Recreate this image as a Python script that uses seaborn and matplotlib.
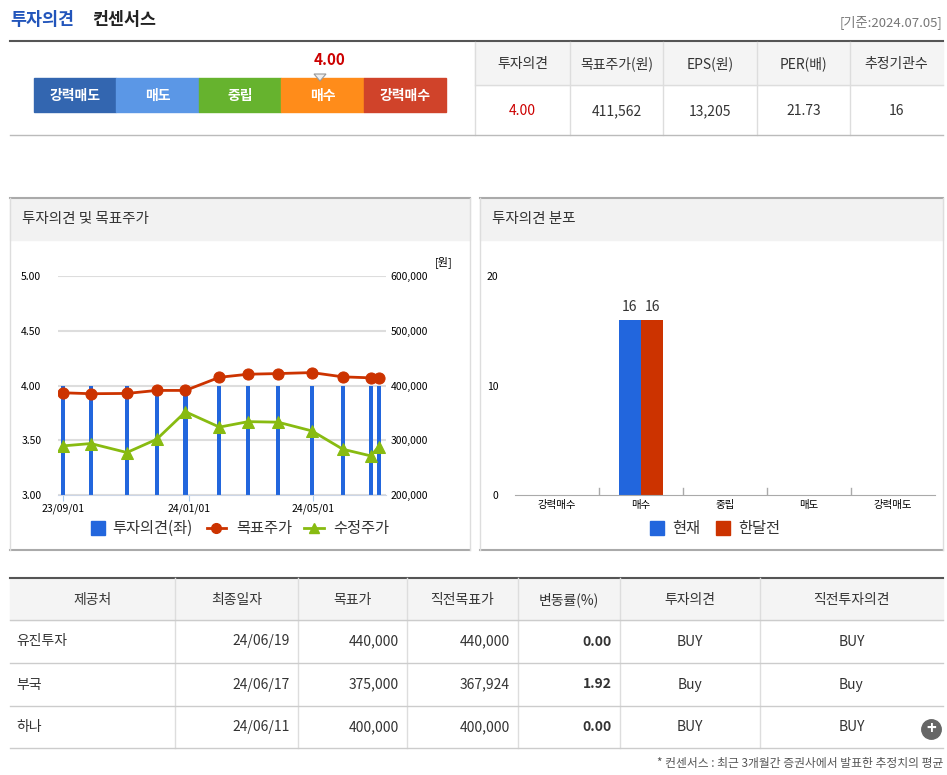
import matplotlib
matplotlib.use("Agg")
import matplotlib.pyplot as plt
import seaborn as sns
import pandas as pd
import numpy as np
from matplotlib.patches import Rectangle, Polygon
from matplotlib import font_manager

_names = {f.name for f in font_manager.fontManager.ttflist}
_fams = [n for n in ["Noto Sans CJK KR", "Noto Sans CJK JP", "Noto Sans CJK SC", "Noto Sans CJK TC"] if n in _names]
plt.rcParams["font.family"] = _fams + ["DejaVu Sans"]

# ---- data ----
days = [0, 27, 62, 91, 119, 152, 180, 209, 242, 272, 299, 307]
opinion = [4.0, 4.0, 4.0, 4.0, 4.0, 4.0, 4.0, 4.0, 4.0, 4.0, 4.0, 4.0]
target = [386700, 385000, 385500, 391000, 391000, 415000, 420600, 421800, 423600, 415800, 414000, 414000]
price = [289700, 294000, 277600, 301800, 352000, 324000, 334000, 333000, 317000, 283600, 271500, 288000]
xtick_pos = [0, 122, 243]
xtick_labels = ["23/09/01", "24/01/01", "24/05/01"]
dist_cats = ["강력매수", "매수", "중립", "매도", "강력매도"]
dist_now = [0, 16, 0, 0, 0]
dist_prev = [0, 16, 0, 0, 0]
gauge_labels = ["강력매도", "매도", "중립", "매수", "강력매수"]
gauge_colors = ["#3366b0", "#5b97e6", "#66b32e", "#ff8c1a", "#d0432a"]
top_headers = ["투자의견", "목표주가(원)", "EPS(원)", "PER(배)", "추정기관수"]
top_values = ["4.00", "411,562", "13,205", "21.73", "16"]
tbl_headers = ["제공처", "최종일자", "목표가", "직전목표가", "변동률(%)", "투자의견", "직전투자의견"]
tbl_rows = [
    ["유진투자", "24/06/19", "440,000", "440,000", "0.00", "BUY", "BUY"],
    ["부국", "24/06/17", "375,000", "367,924", "1.92", "Buy", "Buy"],
    ["하나", "24/06/11", "400,000", "400,000", "0.00", "BUY", "BUY"],
]

W, H = 947, 775
fig = plt.figure(figsize=(W / 100, H / 100), dpi=100)
bg = fig.add_axes([0, 0, 1, 1])
bg.set_xlim(0, W); bg.set_ylim(H, 0); bg.axis("off")

def hl(y, x0, x1, c="#cccccc", lw=1):
    bg.plot([x0, x1], [y, y], color=c, lw=lw)
def vl(x, y0, y1, c="#dddddd", lw=1):
    bg.plot([x, x], [y0, y1], color=c, lw=lw)

# title
bg.text(10, 20, "투자의견", color="#2255bb", fontsize=12.5, fontweight="bold", va="center")
bg.text(92, 20, "컨센서스", color="#222222", fontsize=12.5, fontweight="bold", va="center")
bg.text(942, 22, "[기준:2024.07.05]", color="#777777", fontsize=9.5, va="center", ha="right")
hl(41, 10, 943, "#555555", 1.5)

# gauge
gx0, gw = 34, 82.4
for i, (lab, c) in enumerate(zip(gauge_labels, gauge_colors)):
    bg.add_patch(Rectangle((gx0 + i * gw, 78), gw, 34, color=c))
    bg.text(gx0 + i * gw + gw / 2, 96, lab, color="white", fontsize=10, fontweight="bold", ha="center", va="center")
bg.text(330, 60, "4.00", color="#cc0000", fontsize=11, fontweight="bold", ha="center", va="center")
bg.add_patch(Polygon([[314, 74], [326, 74], [320, 81]], color="#eeeeee", ec="#999999", lw=0.8))

# top table
bg.add_patch(Rectangle((475, 42), 468, 43, color="#f4f4f4"))
cols = [475, 570, 663, 757, 850, 943]
for i in range(5):
    cx = (cols[i] + cols[i + 1]) / 2
    bg.text(cx, 64, top_headers[i], fontsize=10, ha="center", va="center", color="#333333")
    bg.text(cx, 111, top_values[i], fontsize=10, ha="center", va="center",
            color="#cc0000" if i == 0 else "#333333")
for x in cols[1:-1]:
    vl(x, 42, 135)
vl(475, 42, 135)
hl(85, 475, 943, "#dddddd")
hl(135, 10, 943, "#bbbbbb")

# panels
for x0, x1, t in [(10, 470, "투자의견 및 목표주가"), (480, 943, "투자의견 분포")]:
    bg.add_patch(Rectangle((x0, 198), x1 - x0, 42, color="#f2f2f2"))
    hl(198, x0, x1, "#aaaaaa", 1.5)
    hl(550, x0, x1, "#aaaaaa", 1.5)
    vl(x0, 198, 550, "#dddddd"); vl(x1, 198, 550, "#dddddd")
    bg.text(x0 + 12, 219, t, fontsize=10.5, va="center", color="#333333")

# left chart
ax = fig.add_axes([58 / W, 1 - 495 / H, 328 / W, 219 / H])
ax.bar(days, [o - 3 for o in opinion], bottom=3, width=4, color="#2266dd", zorder=2)
ax.set_ylim(3, 5); ax.set_xlim(-5, 314)
ax.set_yticks([3, 3.5, 4, 4.5, 5])
ax.set_yticklabels(["3.00", "3.50", "4.00", "4.50", "5.00"], fontsize=7.5)
ax.grid(axis="y", color="#dddddd", lw=1.5, zorder=0)
ax.set_xticks(xtick_pos); ax.set_xticklabels(xtick_labels, fontsize=7.5)
ax.tick_params(axis="y", length=0, pad=12)
ax.tick_params(axis="x", length=4, color="#aaccee", pad=2)
for s in ax.spines.values(): s.set_visible(False)
ax.spines["bottom"].set_visible(True); ax.spines["bottom"].set_color("#ccd6e6")
ax2 = ax.twinx()
df = pd.DataFrame({"d": days, "t": target, "p": price})
sns.lineplot(data=df, x="d", y="t", ax=ax2, color="#cc3300", lw=2, marker="o", ms=8, mec="#cc3300")
sns.lineplot(data=df, x="d", y="p", ax=ax2, color="#88bb11", lw=2, marker="^", ms=8, mec="#88bb11")
ax2.set_ylim(200000, 600000)
ax2.set_yticks([200000, 300000, 400000, 500000, 600000])
ax2.set_yticklabels(["200,000", "300,000", "400,000", "500,000", "600,000"], fontsize=7.5)
ax2.tick_params(length=0)
ax2.set_xlabel(""); ax2.set_ylabel("")
for s in ax2.spines.values(): s.set_visible(False)
bg.text(444, 262, "[원]", fontsize=8, ha="center", va="center")
# legend left
bg.add_patch(Rectangle((91, 521), 14, 14, color="#2266dd"))
bg.text(112, 528, "투자의견(좌)", fontsize=11, va="center", color="#333333")
bg.plot([207, 226], [528, 528], color="#cc3300", lw=2); bg.plot(216, 528, "o", color="#cc3300", ms=7)
bg.text(236, 528, "목표주가", fontsize=11, va="center", color="#333333")
bg.plot([304, 324], [528, 528], color="#88bb11", lw=2); bg.plot(314, 528, "^", color="#88bb11", ms=7)
bg.text(333, 528, "수정주가", fontsize=11, va="center", color="#333333")

# right chart
axr = fig.add_axes([515 / W, 1 - 495 / H, 420 / W, 219 / H])
dd = pd.DataFrame({"cat": dist_cats * 2, "v": dist_now + dist_prev,
                   "s": ["현재"] * 5 + ["한달전"] * 5})
sns.barplot(data=dd, x="cat", y="v", hue="s", palette=["#2266dd", "#cc3300"], ax=axr,
            width=0.53, legend=False, zorder=2, saturation=1)
for p in axr.patches:
    if p.get_height() > 0:
        axr.text(p.get_x() + p.get_width() / 2, p.get_height() + 0.5, f"{p.get_height():.0f}",
                 ha="center", va="bottom", fontsize=10, color="#333333")
axr.set_ylim(0, 20); axr.set_yticks([0, 10, 20])
axr.set_yticklabels(["0", "10", "20"], fontsize=7.5)
axr.tick_params(axis="y", length=0, pad=12)
axr.tick_params(axis="x", length=0, labelsize=7.5)
axr.set_xlabel(""); axr.set_ylabel("")
for s in axr.spines.values(): s.set_visible(False)
axr.spines["bottom"].set_visible(True); axr.spines["bottom"].set_color("#aaaaaa")
for i in range(1, 5):
    axr.axvline(i - 0.5, ymax=0.03, color="#aaaaaa", lw=1)
bg.add_patch(Rectangle((650, 521), 14, 14, color="#2266dd"))
bg.text(672, 528, "현재", fontsize=11, va="center", color="#333333")
bg.add_patch(Rectangle((716, 521), 14, 14, color="#cc3300"))
bg.text(738, 528, "한달전", fontsize=11, va="center", color="#333333")

# bottom table
bg.add_patch(Rectangle((10, 578), 933, 42, color="#f4f4f4"))
hl(578, 10, 943, "#555555", 1.5)
tc = [10, 175, 298, 407, 518, 620, 760, 943]
for i, h in enumerate(tbl_headers):
    bg.text((tc[i] + tc[i + 1]) / 2, 600, h, fontsize=10, ha="center", va="center", color="#333333")
for x in tc[1:-1]:
    vl(x, 578, 748)
rys = [620, 663, 706, 748]
for y in rys:
    hl(y, 10, 943, "#cccccc")
for r, row in enumerate(tbl_rows):
    cy = (rys[r] + rys[r + 1]) / 2
    for i, v in enumerate(row):
        if i == 0:
            bg.text(16, cy, v, fontsize=10, va="center", color="#333333")
        elif i in (5, 6):
            bg.text((tc[i] + tc[i + 1]) / 2, cy, v, fontsize=10, ha="center", va="center", color="#333333")
        else:
            bg.text(tc[i + 1] - 8, cy, v, fontsize=10, ha="right", va="center", color="#333333",
                    fontweight="bold" if i == 4 else "normal")
bg.plot(931, 729, "o", color="#666666", ms=14)
bg.text(931, 729, "+", color="white", fontsize=12, fontweight="bold", ha="center", va="center")
bg.text(943, 763, "* 컨센서스 : 최근 3개월간 증권사에서 발표한 추정치의 평균", fontsize=8.5,
        ha="right", va="center", color="#555555")

fig.savefig("out.png", dpi=100)
